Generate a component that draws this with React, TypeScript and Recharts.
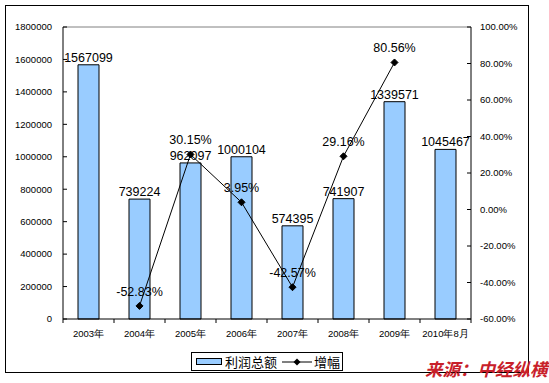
import React from 'react';
import {
  ComposedChart,
  Bar,
  Line,
  XAxis,
  YAxis,
  LabelList,
  ReferenceLine,
} from 'recharts';

// data
const years = ['2003年', '2004年', '2005年', '2006年', '2007年', '2008年', '2009年', '2010年8月'];
const profit = [1567099, 739224, 962097, 1000104, 574395, 741907, 1339571, 1045467];
const growth: (number | null)[] = [null, -52.83, 30.15, 3.95, -42.57, 29.16, 80.56, null];
const leftTicks = [0, 200000, 400000, 600000, 800000, 1000000, 1200000, 1400000, 1600000, 1800000];
const rightTicks = [-60, -40, -20, 0, 20, 40, 60, 80, 100];

const data = years.map((y, i) => ({ year: y, profit: profit[i], growth: growth[i] }));

const FONT = '"Liberation Sans", Arial, sans-serif';
const CJK = '"Noto Sans CJK SC", sans-serif';
const BAND = 51;

const Diamond = (props: any) => {
  const { cx, cy, value } = props;
  if (value == null || cx == null || cy == null) return null;
  const r = 3.5;
  return (
    <path
      d={`M${cx},${cy - r} L${cx + r},${cy} L${cx},${cy + r} L${cx - r},${cy} Z`}
      fill="#000"
      stroke="#000"
    />
  );
};

const XTick = (props: any) => {
  const { x, y, payload, index } = props;
  const axisY = y - 11;
  return (
    <g>
      {index === 0 && <line x1={x - BAND / 2} x2={x - BAND / 2} y1={axisY} y2={axisY + 4} stroke="#000" />}
      <line x1={x + BAND / 2} x2={x + BAND / 2} y1={axisY} y2={axisY + 4} stroke="#000" />
      <text x={x} y={y} dy="0.71em" textAnchor="middle" fontSize={9.5} fontFamily={FONT} fill="#000">
        {payload.value}
      </text>
    </g>
  );
};

export default function App() {
  return (
    <div style={{ position: 'absolute', left: 0, top: 0, width: 549, height: 383, background: '#fff' }}>
      <div
        style={{
          position: 'absolute',
          left: 5,
          top: 5,
          width: 522,
          height: 366,
          border: '1px solid #000',
        }}
      />
      <div style={{ position: 'absolute', left: 0, top: 0 }}>
        <ComposedChart
          width={549}
          height={383}
          data={data}
          margin={{ top: 27, right: 0, left: 0, bottom: 34 }}
          style={{ fontFamily: FONT }}
        >
          <XAxis
            dataKey="year"
            xAxisId="x"
            stroke="#000"
            tickLine={false}
            tickSize={6}
            tickMargin={5}
            height={30}
            interval={0}
            tick={<XTick />}
          />
          <YAxis
            yAxisId="left"
            orientation="left"
            domain={[0, 1800000]}
            ticks={leftTicks}
            interval={0}
            width={63}
            stroke="#000"
            tickSize={-4}
            tickMargin={15}
            tick={{ fontSize: 9.5, fill: '#000', fontFamily: FONT }}
          />
          <YAxis
            yAxisId="right"
            orientation="right"
            domain={[-60, 100]}
            ticks={rightTicks}
            interval={0}
            width={78}
            stroke="#000"
            tickSize={-4}
            tickMargin={13}
            tickFormatter={(v: number) => `${v.toFixed(2)}%`}
            tick={{ fontSize: 9.5, fill: '#000', fontFamily: FONT, textAnchor: 'start' }}
          />
          <ReferenceLine yAxisId="left" xAxisId="x" y={1800000} stroke="#808080" />
          <Bar
            dataKey="profit"
            xAxisId="x"
            yAxisId="left"
            barSize={21}
            fill="#99CCFF"
            stroke="#000"
            strokeWidth={1}
            isAnimationActive={false}
          >
            <LabelList dataKey="profit" position="top" offset={3} fontSize={12.5} fill="#000" fontFamily={FONT} />
          </Bar>
          <Line
            dataKey="growth"
            xAxisId="x"
            yAxisId="right"
            stroke="#000"
            strokeWidth={1}
            dot={<Diamond />}
            activeDot={false}
            connectNulls={false}
            isAnimationActive={false}
          >
            <LabelList
              dataKey="growth"
              position="top"
              offset={10}
              fontSize={12.5}
              fill="#000"
              fontFamily={FONT}
              formatter={(v: any) => (v == null ? '' : `${Number(v).toFixed(2)}%`)}
            />
          </Line>
        </ComposedChart>
      </div>
      {/* legend */}
      <div
        style={{
          position: 'absolute',
          left: 191,
          top: 352,
          width: 150,
          height: 17,
          border: '1px solid #000',
          background: '#fff',
          display: 'flex',
          alignItems: 'center',
          fontFamily: CJK,
          fontSize: 13,
          color: '#000',
          whiteSpace: 'nowrap',
        }}
      >
        <span style={{ display: 'inline-block', width: 24, height: 5, marginLeft: 4, marginRight: 3, background: '#99CCFF', border: '1px solid #000' }} />
        <span>利润总额</span>
        <svg width={30} height={10} style={{ marginLeft: 5, marginRight: 2 }}>
          <line x1={0} x2={30} y1={5} y2={5} stroke="#000" />
          <path d="M15,1.5 L18.5,5 L15,8.5 L11.5,5 Z" fill="#000" />
        </svg>
        <span>增幅</span>
      </div>
      <div
        style={{
          position: 'absolute',
          left: 425,
          top: 358,
          fontFamily: CJK,
          fontWeight: 'bold',
          fontStyle: 'italic',
          fontSize: 17.5,
          color: '#c8202a',
          whiteSpace: 'nowrap',
          lineHeight: '22px',
        }}
      >
        来源：中经纵横
      </div>
    </div>
  );
}
